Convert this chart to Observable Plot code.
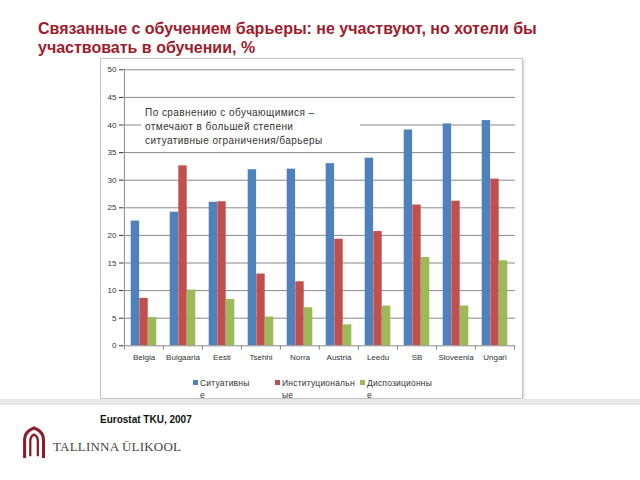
<!DOCTYPE html>
<html><head><meta charset="utf-8">
<script src="https://cdn.jsdelivr.net/npm/d3@7"></script>
<script src="https://cdn.jsdelivr.net/npm/@observablehq/plot@0.6"></script>
<style>
html,body{margin:0;padding:0;background:#fff;width:640px;height:480px;overflow:hidden;position:relative;font-family:"Liberation Sans",Arial,sans-serif;}
.title{position:absolute;left:38px;top:19px;font-weight:bold;font-size:16px;line-height:19px;color:#9e1c2c;}
.box{position:absolute;left:100px;top:58px;width:421px;height:339px;border:1px solid #c6c6c6;box-shadow:1px 1px 2px #d0d0d0;}
#chart{position:absolute;left:100px;top:58px;}
.note{position:absolute;left:141px;top:103px;width:219px;height:46px;background:#fff;font-size:10px;line-height:14px;color:#333;padding-left:4px;padding-top:3px;box-sizing:border-box;letter-spacing:0.45px;}
.legend{position:absolute;top:377px;font-size:8.5px;line-height:12px;color:#333;letter-spacing:0.2px;}
.legend i{position:absolute;left:-7px;top:3px;width:5px;height:5px;}
.band{position:absolute;left:0;top:399px;width:640px;height:6px;background:#e8e8e8;}
.src{position:absolute;left:100px;top:414px;font-weight:bold;font-size:10px;color:#111;}
.uni{position:absolute;left:53px;top:439px;font-family:"Liberation Serif","DejaVu Serif",serif;font-size:13px;letter-spacing:0.2px;color:#444;}
</style></head>
<body>
<div class="title">Связанные с обучением барьеры: не участвуют, но хотели бы<br>участвовать в обучении, %</div>
<div class="box"></div>
<div id="chart"></div>
<div class="note" id="note"></div>
<div id="legend"></div>
<div class="band"></div>
<div class="src" id="src"></div>
<svg style="position:absolute;left:20px;top:426px" width="30" height="34" viewBox="0 0 30 36">
<path d="M4 34 L4 14 Q4 6 14 2 Q24 6 24 14 L24 34" fill="none" stroke="#8b1a2b" stroke-width="3.2"/>
<path d="M10 32 L10 16 Q10 11 14 9 Q18 11 18 16 L18 32" fill="none" stroke="#8b1a2b" stroke-width="2.4"/>
</svg>
<div class="uni">TALLINNA ÜLIKOOL</div>
<script>
const countries = ["Belgia","Bulgaaria","Eesti","Tsehhi","Norra","Austria","Leedu","SB","Sloveenia","Ungari"];
const situational = [22.6,24.2,26.0,31.9,32.0,33.0,34.0,39.1,40.2,40.8];
const institutional = [8.6,32.6,26.1,13.0,11.6,19.3,20.7,25.5,26.2,30.2];
const dispositional = [5.1,10.1,8.4,5.2,6.9,3.8,7.2,16.0,7.2,15.4];
const seriesNames = ["Ситуативны\nе","Институциональн\nые","Диспозиционны\nе"];
const seriesColors = ["#4f81bd","#c0504d","#9bbb59"];
const yTicks = [0,5,10,15,20,25,30,35,40,45,50];
const noteText = ["По сравнению с обучающимися –","отмечают в большей степени","ситуативные ограничения/барьеры"];
const sourceText = "Eurostat TKU, 2007";

const W = 422, H = 340, mL = 23, mR = 7, mT = 11.3, mB = 52.7;
const step = (W - mL - mR) / countries.length;
const barW = 8.6;
const inset = (step - barW) / 2;
const series = [situational, institutional, dispositional];
const rows = series.map(vals => countries.map((c, i) => ({country: c, value: vals[i]})));

const chart = Plot.plot({
  width: W, height: H,
  marginLeft: mL, marginRight: mR, marginTop: mT, marginBottom: mB,
  style: {fontFamily: "'Liberation Sans', Arial, sans-serif", fontSize: "8px", color: "#333", background: "transparent"},
  x: {domain: countries, padding: 0, tickSize: 0, tickPadding: 9, label: null},
  y: {domain: [0, 50], ticks: yTicks, tickSize: 4, tickPadding: 3, label: null, tickFormat: d => String(d)},
  marks: [
    Plot.ruleY(yTicks.filter(t => t > 0), {stroke: "#8a8a8a", strokeWidth: 1}),
    ...rows.map((r, k) => Plot.barY(r, {x: "country", y: "value", fill: seriesColors[k], insetLeft: inset, insetRight: inset, dx: (k - 1) * barW})),
    Plot.ruleY([0], {stroke: "#8a8a8a"}),
    Plot.ruleX([countries[0]], {x: d => d, dx: -step / 2, y1: 0, y2: 50, stroke: "#8a8a8a"}),
    Plot.ruleX(countries, {x: d => d, dx: -step / 2, y1: 0, y2: -0.8, stroke: "#8a8a8a"}),
    Plot.ruleX([countries[countries.length - 1]], {x: d => d, dx: step / 2, y1: 0, y2: -0.8, stroke: "#8a8a8a"})
  ]
});
document.getElementById("chart").appendChild(chart);

document.getElementById("note").innerHTML = noteText.join("<br>");
document.getElementById("src").textContent = sourceText;

const legendX = [200, 282, 367];
const lg = document.getElementById("legend");
seriesNames.forEach((name, k) => {
  const d = document.createElement("div");
  d.className = "legend";
  d.style.left = legendX[k] + "px";
  d.innerHTML = `<i style="background:${seriesColors[k]}"></i>` + name.split("\n").join("<br>");
  lg.appendChild(d);
});
</script>
</body></html>
